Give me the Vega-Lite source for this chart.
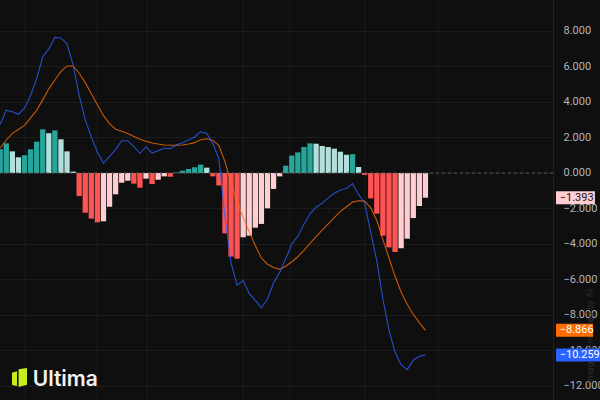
{
  "$schema": "https://vega.github.io/schema/vega-lite/v6.json",
  "width": 553,
  "height": 400,
  "autosize": {"type": "none"},
  "padding": {"left": 0, "top": 0, "right": 47, "bottom": 0},
  "background": "#0f0f0f",
  "config": {
    "view": {"stroke": null},
    "font": "Roboto",
    "scale": {"continuousPadding": 0},
    "axisY": {"grid": true, "gridColor": "#1c1c1c", "gridWidth": 1, "domain": true, "domainColor": "#232323", "ticks": false, "labelPadding": 10, "labelAlign": "left", "labelBaseline": "middle", "labelOverlap": false, "labelFlush": false, "labelBound": false, "labelColor": "#b2b5be", "labelFontSize": 11, "labelFont": "Roboto"}
  },
  "datasets": {
    "macd": [
      {"i": 0, "h": 1.34, "d": "pu", "m": 2.73, "s": 1.40},
      {"i": 1, "h": 1.67, "d": "pu", "m": 3.54, "s": 1.86},
      {"i": 2, "h": 1.22, "d": "pd", "m": 3.45, "s": 2.23},
      {"i": 3, "h": 0.88, "d": "pd", "m": 3.31, "s": 2.45},
      {"i": 4, "h": 1.00, "d": "pu", "m": 3.65, "s": 2.68},
      {"i": 5, "h": 1.34, "d": "pu", "m": 4.37, "s": 3.10},
      {"i": 6, "h": 1.77, "d": "pu", "m": 5.32, "s": 3.53},
      {"i": 7, "h": 2.46, "d": "pu", "m": 6.55, "s": 4.12},
      {"i": 8, "h": 2.24, "d": "pd", "m": 6.99, "s": 4.74},
      {"i": 9, "h": 2.40, "d": "pu", "m": 7.64, "s": 5.24},
      {"i": 10, "h": 1.90, "d": "pd", "m": 7.61, "s": 5.72},
      {"i": 11, "h": 1.22, "d": "pd", "m": 7.28, "s": 6.03},
      {"i": 12, "h": 0.08, "d": "pd", "m": 6.09, "s": 6.03},
      {"i": 13, "h": -1.30, "d": "nd", "m": 4.37, "s": 5.62},
      {"i": 14, "h": -2.24, "d": "nd", "m": 2.99, "s": 5.09},
      {"i": 15, "h": -2.57, "d": "nd", "m": 2.02, "s": 4.46},
      {"i": 16, "h": -2.78, "d": "nd", "m": 1.18, "s": 3.84},
      {"i": 17, "h": -2.72, "d": "nu", "m": 0.56, "s": 3.23},
      {"i": 18, "h": -1.90, "d": "nu", "m": 0.93, "s": 2.78},
      {"i": 19, "h": -1.20, "d": "nu", "m": 1.33, "s": 2.47},
      {"i": 20, "h": -0.55, "d": "nu", "m": 1.82, "s": 2.35},
      {"i": 21, "h": -0.43, "d": "nu", "m": 1.82, "s": 2.22},
      {"i": 22, "h": -0.60, "d": "nd", "m": 1.48, "s": 2.06},
      {"i": 23, "h": -0.83, "d": "nd", "m": 1.11, "s": 1.90},
      {"i": 24, "h": -0.32, "d": "nu", "m": 1.48, "s": 1.79},
      {"i": 25, "h": -0.62, "d": "nd", "m": 1.12, "s": 1.69},
      {"i": 26, "h": -0.38, "d": "nu", "m": 1.25, "s": 1.63},
      {"i": 27, "h": -0.19, "d": "nu", "m": 1.39, "s": 1.58},
      {"i": 28, "h": -0.21, "d": "nd", "m": 1.37, "s": 1.56},
      {"i": 29, "h": 0.03, "d": "pu", "m": 1.58, "s": 1.56},
      {"i": 30, "h": 0.13, "d": "pu", "m": 1.71, "s": 1.58},
      {"i": 31, "h": 0.23, "d": "pu", "m": 1.86, "s": 1.63},
      {"i": 32, "h": 0.32, "d": "pu", "m": 2.03, "s": 1.71},
      {"i": 33, "h": 0.47, "d": "pu", "m": 2.33, "s": 1.87},
      {"i": 34, "h": 0.30, "d": "pd", "m": 2.23, "s": 1.93},
      {"i": 35, "h": -0.19, "d": "nd", "m": 1.67, "s": 1.85},
      {"i": 36, "h": -0.70, "d": "nd", "m": 0.80, "s": 1.54},
      {"i": 37, "h": -3.40, "d": "nd", "m": -2.50, "s": 0.64},
      {"i": 38, "h": -4.71, "d": "nd", "m": -5.07, "s": -0.58},
      {"i": 39, "h": -4.83, "d": "nd", "m": -6.32, "s": -1.61},
      {"i": 40, "h": -3.62, "d": "nu", "m": -6.06, "s": -2.50},
      {"i": 41, "h": -3.53, "d": "nu", "m": -6.80, "s": -3.31},
      {"i": 42, "h": -3.08, "d": "nu", "m": -7.18, "s": -4.10},
      {"i": 43, "h": -2.87, "d": "nu", "m": -7.60, "s": -4.79},
      {"i": 44, "h": -1.99, "d": "nu", "m": -7.10, "s": -5.14},
      {"i": 45, "h": -0.90, "d": "nu", "m": -6.20, "s": -5.33},
      {"i": 46, "h": -0.19, "d": "nu", "m": -5.60, "s": -5.43},
      {"i": 47, "h": 0.41, "d": "pu", "m": -4.84, "s": -5.25},
      {"i": 48, "h": 0.98, "d": "pu", "m": -4.00, "s": -5.00},
      {"i": 49, "h": 1.16, "d": "pu", "m": -3.56, "s": -4.72},
      {"i": 50, "h": 1.46, "d": "pu", "m": -2.89, "s": -4.36},
      {"i": 51, "h": 1.67, "d": "pu", "m": -2.30, "s": -3.97},
      {"i": 52, "h": 1.65, "d": "pd", "m": -1.93, "s": -3.58},
      {"i": 53, "h": 1.52, "d": "pd", "m": -1.70, "s": -3.22},
      {"i": 54, "h": 1.46, "d": "pd", "m": -1.40, "s": -2.86},
      {"i": 55, "h": 1.37, "d": "pd", "m": -1.14, "s": -2.51},
      {"i": 56, "h": 1.20, "d": "pd", "m": -0.96, "s": -2.16},
      {"i": 57, "h": 1.03, "d": "pd", "m": -0.87, "s": -1.90},
      {"i": 58, "h": 1.06, "d": "pu", "m": -0.60, "s": -1.64},
      {"i": 59, "h": 0.34, "d": "pd", "m": -1.22, "s": -1.56},
      {"i": 60, "h": -0.11, "d": "nd", "m": -1.69, "s": -1.58},
      {"i": 61, "h": -1.43, "d": "nd", "m": -3.35, "s": -1.96},
      {"i": 62, "h": -2.29, "d": "nd", "m": -4.97, "s": -2.68},
      {"i": 63, "h": -3.53, "d": "nd", "m": -7.10, "s": -3.75},
      {"i": 64, "h": -4.19, "d": "nd", "m": -8.85, "s": -4.79},
      {"i": 65, "h": -4.45, "d": "nd", "m": -10.10, "s": -5.82},
      {"i": 66, "h": -4.24, "d": "nu", "m": -10.80, "s": -6.72},
      {"i": 67, "h": -3.70, "d": "nu", "m": -11.08, "s": -7.40},
      {"i": 68, "h": -2.54, "d": "nu", "m": -10.55, "s": -7.97},
      {"i": 69, "h": -1.86, "d": "nu", "m": -10.32, "s": -8.43},
      {"i": 70, "h": -1.393, "d": "nu", "m": -10.259, "s": -8.866}
    ],
    "grid": [{"g": 4.08}, {"g": 15.93}, {"g": 24.16}, {"g": 39.97}, {"g": 47.7}, {"g": 60.05}, {"g": 72.07}],
    "labels": [
      {"k": "hist", "v": -1.393, "t": "−1.393"},
      {"k": "signal", "v": -8.866, "t": "−8.866"},
      {"k": "macd", "v": -10.259, "t": "−10.259"}
    ],
    "one": [{}]
  },
  "layer": [
    {
      "data": {"name": "grid"},
      "mark": {"type": "rule", "color": "#1b1b1b", "strokeWidth": 1},
      "encoding": {
        "x": {"field": "g", "type": "quantitative", "scale": {"domain": [-0.033, 91], "nice": false, "zero": false, "padding": 0}, "axis": null}
      }
    },
    {
      "data": {"name": "macd"},
      "mark": {"type": "bar", "size": 5.3},
      "encoding": {
        "x": {"field": "i", "type": "quantitative", "scale": {"domain": [-0.033, 91], "nice": false, "zero": false, "padding": 0}, "axis": null},
        "y": {"field": "h", "type": "quantitative", "scale": {"domain": [-12.789, 9.746], "nice": false, "zero": false, "padding": 0},
          "axis": {"orient": "right", "values": [-12, -10, -8, -6, -4, -2, 0, 2, 4, 6, 8], "format": ".3f", "title": null}},
        "y2": {"datum": 0},
        "color": {"field": "d", "type": "nominal", "scale": {"domain": ["pu", "pd", "nd", "nu"], "range": ["#26a69a", "#b2dfdb", "#ff5252", "#ffcdd2"]}, "legend": null}
      }
    },
    {
      "data": {"name": "one"},
      "mark": {"type": "rule", "color": "#5a5a5a", "strokeDash": [3, 3], "strokeWidth": 1},
      "encoding": {
        "y": {"datum": 0, "axis": {"orient": "right", "values": [-12, -10, -8, -6, -4, -2, 0, 2, 4, 6, 8], "format": ".3f", "title": null}}
      }
    },
    {
      "data": {"name": "macd"},
      "mark": {"type": "line", "color": "#ff6d00", "strokeWidth": 1.1, "opacity": 0.78},
      "encoding": {
        "x": {"field": "i", "type": "quantitative", "axis": null},
        "y": {"field": "s", "type": "quantitative", "axis": {"orient": "right", "values": [-12, -10, -8, -6, -4, -2, 0, 2, 4, 6, 8], "format": ".3f", "title": null}}
      }
    },
    {
      "data": {"name": "macd"},
      "mark": {"type": "line", "color": "#2962ff", "strokeWidth": 1.1, "opacity": 0.78},
      "encoding": {
        "x": {"field": "i", "type": "quantitative", "axis": null},
        "y": {"field": "m", "type": "quantitative", "axis": {"orient": "right", "values": [-12, -10, -8, -6, -4, -2, 0, 2, 4, 6, 8], "format": ".3f", "title": null}}
      }
    },
    {
      "data": {"name": "one"},
      "mark": {"type": "text", "angle": 270, "align": "center", "baseline": "middle", "fontSize": 9.5, "font": "Roboto", "color": "#2e2e2e"},
      "encoding": {
        "x": {"datum": 97.1, "axis": null},
        "y": {"datum": -9.18, "axis": {"orient": "right", "values": [-12, -10, -8, -6, -4, -2, 0, 2, 4, 6, 8], "format": ".3f", "title": null}},
        "text": {"value": "image generated by AI"}
      }
    },
    {
      "data": {"name": "labels"},
      "transform": [{"filter": "datum.k == 'hist'"}],
      "mark": {"type": "bar", "size": 13, "orient": "horizontal", "color": "#ffcdd2"},
      "encoding": {
        "x": {"datum": 91.49, "axis": null},
        "x2": {"datum": 97.9},
        "y": {"field": "v", "type": "quantitative", "axis": {"orient": "right", "values": [-12, -10, -8, -6, -4, -2, 0, 2, 4, 6, 8], "format": ".3f", "title": null}}
      }
    },
    {
      "data": {"name": "labels"},
      "transform": [{"filter": "datum.k == 'signal'"}],
      "mark": {"type": "bar", "size": 13, "orient": "horizontal", "color": "#ff6d00"},
      "encoding": {
        "x": {"datum": 91.49, "axis": null},
        "x2": {"datum": 97.6},
        "y": {"field": "v", "type": "quantitative", "axis": {"orient": "right", "values": [-12, -10, -8, -6, -4, -2, 0, 2, 4, 6, 8], "format": ".3f", "title": null}}
      }
    },
    {
      "data": {"name": "labels"},
      "transform": [{"filter": "datum.k == 'macd'"}],
      "mark": {"type": "bar", "size": 13, "orient": "horizontal", "color": "#2962ff"},
      "encoding": {
        "x": {"datum": 91.49, "axis": null},
        "x2": {"datum": 98.8},
        "y": {"field": "v", "type": "quantitative", "axis": {"orient": "right", "values": [-12, -10, -8, -6, -4, -2, 0, 2, 4, 6, 8], "format": ".3f", "title": null}}
      }
    },
    {
      "data": {"name": "labels"},
      "transform": [{"filter": "datum.k == 'hist'"}],
      "mark": {"type": "text", "align": "left", "baseline": "middle", "fontSize": 11, "font": "Roboto", "color": "#131722"},
      "encoding": {
        "x": {"datum": 92.1, "axis": null},
        "y": {"field": "v", "type": "quantitative", "axis": {"orient": "right", "values": [-12, -10, -8, -6, -4, -2, 0, 2, 4, 6, 8], "format": ".3f", "title": null}},
        "text": {"field": "t"}
      }
    },
    {
      "data": {"name": "labels"},
      "transform": [{"filter": "datum.k != 'hist'"}],
      "mark": {"type": "text", "align": "left", "baseline": "middle", "fontSize": 11, "font": "Roboto", "color": "#ffffff"},
      "encoding": {
        "x": {"datum": 92.1, "axis": null},
        "y": {"field": "v", "type": "quantitative", "axis": {"orient": "right", "values": [-12, -10, -8, -6, -4, -2, 0, 2, 4, 6, 8], "format": ".3f", "title": null}},
        "text": {"field": "t"}
      }
    },
    {
      "data": {"name": "one"},
      "mark": {"type": "point", "filled": true, "opacity": 1, "size": 361, "color": "#c6ef1c", "strokeWidth": 0, "shape": "M-0.79,-0.5 L-0.26,-0.66 L-0.26,0.9 L-0.79,0.78 Z M-0.1,-0.86 L0.79,-1 L0.79,0.76 L-0.1,1 Z"},
      "encoding": {
        "x": {"datum": 3.18, "axis": null},
        "y": {"datum": -11.52, "axis": {"orient": "right", "values": [-12, -10, -8, -6, -4, -2, 0, 2, 4, 6, 8], "format": ".3f", "title": null}}
      }
    },
    {
      "data": {"name": "one"},
      "mark": {"type": "text", "align": "left", "baseline": "alphabetic", "fontSize": 21, "fontWeight": 600, "font": "Inter", "color": "#f2f2f2"},
      "encoding": {
        "x": {"datum": 5.35, "axis": null},
        "y": {"datum": -12.0, "axis": {"orient": "right", "values": [-12, -10, -8, -6, -4, -2, 0, 2, 4, 6, 8], "format": ".3f", "title": null}},
        "text": {"value": "Ultima"}
      }
    }
  ]
}
